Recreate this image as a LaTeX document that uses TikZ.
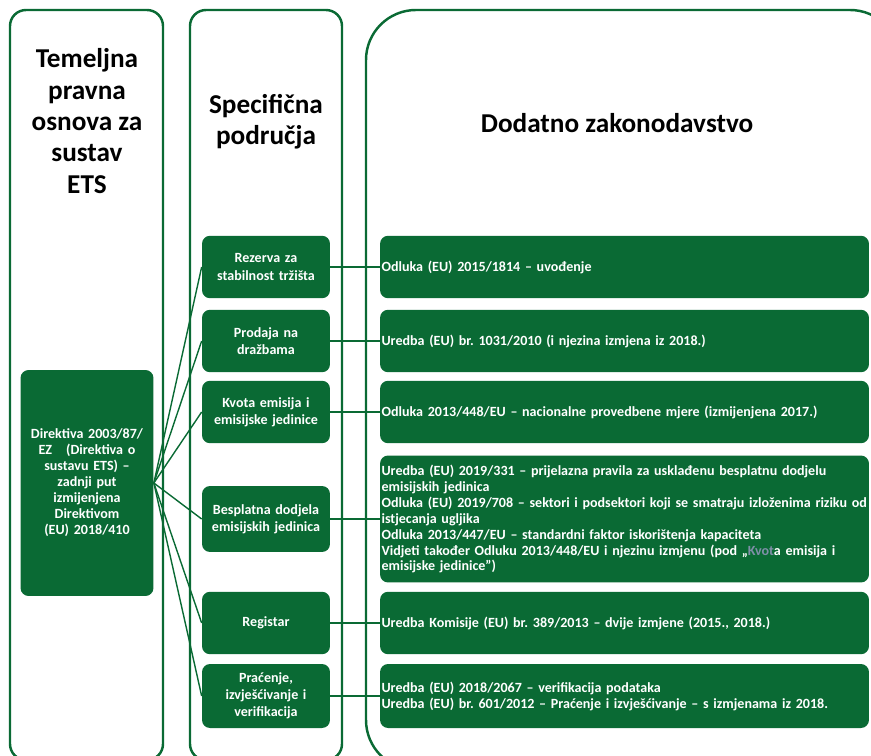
\documentclass[tikz,border=0pt]{standalone}
\usepackage{fontspec}
\setmainfont{Carlito}
\usepackage{xcolor}
\usetikzlibrary{positioning}
\definecolor{etsgreen}{HTML}{0A6A34}
\definecolor{kvotcol}{HTML}{7F8FA8}
\frenchspacing

\begin{document}
\begin{tikzpicture}[x=0.02cm,y=-0.02cm]
  \tikzset{column/.style = {draw=etsgreen, line width=1.4pt}}
  \tikzset{heading/.style = {align=center, font=\fontsize{15.5}{17.8}\selectfont\bfseries, inner sep=0pt}}
  \tikzset{areabox/.style = {shape=rectangle, fill=etsgreen, rounded corners=0.16cm, text=white, align=center,
      minimum width=2.56cm, minimum height=1.25cm, text width=2.4cm, inner sep=0.08cm,
      font=\fontsize{8}{9.7}\selectfont\bfseries}}
  \tikzset{lawbox/.style = {shape=rectangle, fill=etsgreen, rounded corners=0.16cm, text=white, align=left,
      minimum width=9.78cm, minimum height=1.25cm, text width=9.72cm, inner xsep=0.03cm, inner ysep=0.08cm,
      font=\fontsize{8}{9.1}\selectfont\bfseries}}
  \tikzset{edge/.style = {draw=etsgreen, line width=0.8pt}}

  \clip (0,0) rectangle (871,756);

  % the three columns
  \draw[column, rounded corners=0.32cm] (10,10) rectangle (163,760);
  \draw[column, rounded corners=0.32cm] (190,10) rectangle (342,760);
  \draw[column, rounded corners=1cm] (366,10) rectangle (900,770);

  \node[heading] (T) at (87,121) {Temeljna\\pravna\\osnova za\\sustav\\ETS};
  \node[heading] (S) at (266,122) {Specifična\\područja};
  \node[heading] (D) at (617,123) {Dodatno zakonodavstvo};

  \node[areabox, minimum width=2.6cm, minimum height=4.52cm, text width=2.5cm,
        font=\fontsize{8}{9.1}\selectfont\bfseries] (DIR) at (87,483)
        {Direktiva 2003/87/\\EZ\quad(Direktiva o\\sustavu ETS) –\\zadnji put\\izmijenjena\\Direktivom\\(EU) 2018/410};

  \node[areabox] (RZ) at (266,267) {Rezerva za\\stabilnost tržišta};
  \node[areabox] (PD) at (266,341) {Prodaja na\\dražbama};
  \node[areabox] (KE) at (266,412) {Kvota emisija i\\emisijske jedinice};
  \node[areabox, minimum height=1.32cm] (BD) at (266,519) {Besplatna dodjela\\emisijskih jedinica};
  \node[areabox] (RG) at (266,623) {Registar};
  \node[areabox, minimum height=1.28cm] (PI) at (266,696) {Praćenje,\\izvješćivanje i\\verifikacija};

  \node[lawbox] (RZL) at (624.5,267) {Odluka (EU) 2015/1814 – uvođenje};
  \node[lawbox] (PDL) at (624.5,341) {Uredba (EU) br. 1031/2010 (i njezina izmjena iz 2018.)};
  \node[lawbox] (KEL) at (624.5,412) {Odluka 2013/448/EU – nacionalne provedbene mjere (izmijenjena 2017.)};
  \node[lawbox, minimum height=2.54cm] (BDL) at (624.5,519)
        {Uredba (EU) 2019/331 – prijelazna pravila za usklađenu besplatnu dodjelu\\
         emisijskih jedinica\\
         Odluka (EU) 2019/708 – sektori i podsektori koji se smatraju izloženima riziku~od\\
         istjecanja ugljika\\
         Odluka 2013/447/EU – standardni faktor iskorištenja kapaciteta\\
         Vidjeti također Odluku 2013/448/EU i njezinu izmjenu (pod „\textcolor{kvotcol}{Kvot}a emisija i\\
         emisijske jedinice”)};
  \node[lawbox] (RGL) at (624.5,623) {Uredba Komisije (EU) br. 389/2013 – dvije izmjene (2015., 2018.)};
  \node[lawbox, minimum height=1.28cm] (PIL) at (624.5,696)
        {Uredba (EU) 2018/2067 – verifikacija podataka\\
         Uredba (EU) br. 601/2012 – Praćenje i izvješćivanje – s izmjenama iz 2018.};

  \foreach \to in {RZ, PD, KE, BD, RG, PI}
    \path[edge] (DIR.east) edge (\to.west);

  \foreach \from/\to in {RZ/RZL, PD/PDL, KE/KEL, BD/BDL, RG/RGL, PI/PIL}
    \path[edge] (\from) edge (\to);

\end{tikzpicture}
\end{document}
